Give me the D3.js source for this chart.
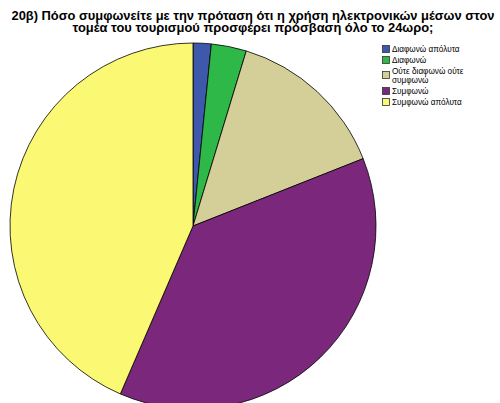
<!DOCTYPE html>
<html>
<head>
<meta charset="utf-8">
<script src="https://cdn.jsdelivr.net/npm/d3@7"></script>
<style>
  body { margin: 0; background: #fff; }
  text { font-family: "Liberation Sans", Arial, sans-serif; }
</style>
</head>
<body>
<div id="chart"></div>
<script>
const categories = ["Διαφωνώ απόλυτα", "Διαφωνώ", "Ούτε διαφωνώ ούτε συμφωνώ", "Συμφωνώ", "Συμφωνώ απόλυτα"]
const legendLines = [["Διαφωνώ απόλυτα"], ["Διαφωνώ"], ["Ούτε διαφωνώ ούτε", "συμφωνώ"], ["Συμφωνώ"], ["Συμφωνώ απόλυτα"]]
const percents = [1.6, 3.1, 14.3, 37.5, 43.5]
const colors = ["#3e58ac", "#2eb848", "#d4cf98", "#7b287c", "#fbf873"]
const titleLines = ["20β) Πόσο συμφωνείτε με την πρόταση ότι η χρήση ηλεκτρονικών μέσων στον",
                    "τομέα του τουρισμού προσφέρει πρόσβαση όλο το 24ωρο;"]

const width = 500;
const height = 403;
const cx = 193, cy = 226, radius = 183;

const svg = d3.select("div#chart").append("svg")
    .attr("width", width)
    .attr("height", height)

svg.append("text")
    .attr("x", 253)
    .attr("y", 19.5)
    .attr("text-anchor", "middle")
    .style("font-size", "12.9px")
    .style("font-weight", "bold")
    .selectAll("tspan")
    .data(titleLines)
    .enter().append("tspan")
    .attr("x", 253)
    .attr("dy", (d, i) => i == 0 ? 0 : 12)
    .text(d => d)

const pie = d3.pie().sort(null).value(d => d)
const arc = d3.arc().innerRadius(0).outerRadius(radius)

const pieGroup = svg.append("g")
    .attr("transform", `translate(${cx}, ${cy})`)

pieGroup.selectAll("path")
    .data(pie(percents))
    .enter().append("path")
    .attr("d", arc)
    .attr("fill", (d, i) => colors[i])
    .attr("stroke", "#000")
    .attr("stroke-width", 0.8)

// legend
const legend = svg.append("g").attr("transform", "translate(382, 45)")
let yPos = 0
legendLines.forEach((lines, i) => {
    const boxY = lines.length > 1 ? yPos + 4 : yPos
    legend.append("rect")
        .attr("x", 0.5)
        .attr("y", boxY + 0.5)
        .attr("width", 7)
        .attr("height", 7)
        .attr("fill", colors[i])
        .attr("stroke", "#333")
        .attr("stroke-width", 0.8)
    lines.forEach((l, j) => {
        legend.append("text")
            .attr("x", 10)
            .attr("y", yPos + 7 + j * 8.5)
            .style("font-size", "8.2px")
            .text(l)
    })
    yPos += lines.length > 1 ? 20 : 11
})
</script>
</body>
</html>
